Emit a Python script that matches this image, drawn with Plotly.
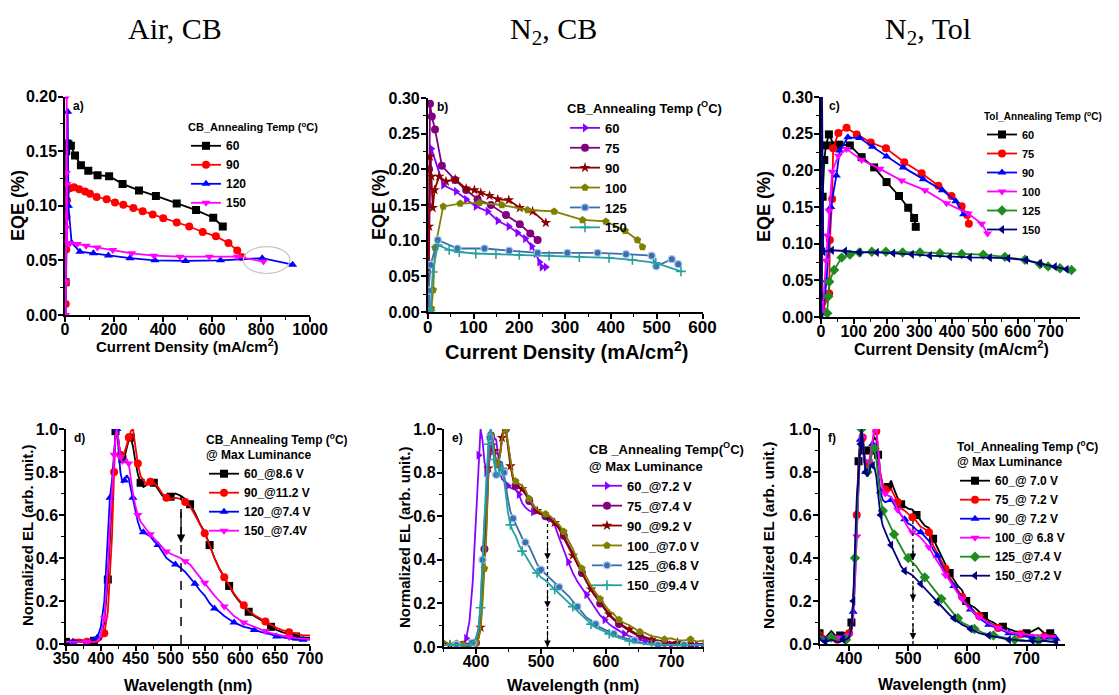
import plotly.graph_objects as go

# page body adds an 8 px margin, so the figure is 8 px smaller and all
# reference pixel positions are shifted by OFF
OFF = 8
W, H = 1119 - OFF, 695 - OFF
SANS = "Liberation Sans"

# ---------------- (a) Air, CB : EQE vs current density ----------------
a60_x = [2, 5, 10, 14, 24, 41, 65, 95, 133, 180, 235, 302, 371, 456, 535, 605, 644]
a60_y = [0.03, 0.15, 0.157, 0.156, 0.155, 0.146, 0.137, 0.132, 0.128, 0.127, 0.120, 0.114, 0.109, 0.102, 0.096, 0.089, 0.081]
a90_x = [3, 4, 5, 6, 8, 20, 37, 58, 82, 102, 129, 170, 204, 238, 279, 317, 358, 401, 456, 507, 562, 616, 667, 703, 721]
a90_y = [0.01, 0.03, 0.06, 0.09, 0.105, 0.116, 0.117, 0.115, 0.113, 0.111, 0.108, 0.106, 0.103, 0.101, 0.098, 0.095, 0.092, 0.0885, 0.0846, 0.081, 0.076, 0.072, 0.066, 0.059, 0.053]
a120_x = [3, 8, 11, 14, 27, 61, 116, 177, 265, 367, 492, 635, 805, 929]
a120_y = [0.0, 0.10, 0.186, 0.10, 0.066, 0.058, 0.0565, 0.0544, 0.052, 0.050, 0.0495, 0.050, 0.052, 0.046]
a150_x = [3, 4, 5, 6, 7, 8, 9, 20, 50, 86, 132, 195, 272, 363, 469, 589, 703, 810]
a150_y = [0.0, 0.03, 0.08, 0.13, 0.20, 0.12, 0.066, 0.0656, 0.065, 0.0635, 0.0617, 0.0595, 0.0565, 0.0543, 0.0534, 0.0534, 0.0534, 0.0489]

# ---------------- (b) N2, CB : EQE vs current density ----------------
b60_x = [2, 4, 8, 34, 62, 84, 105, 131, 153, 177, 196, 213, 227, 236, 244, 249, 258]
b60_y = [0.0, 0.15, 0.229, 0.178, 0.169, 0.158, 0.148, 0.141, 0.128, 0.120, 0.111, 0.103, 0.092, 0.082, 0.070, 0.063, 0.063]
b75_x = [1, 3, 5, 9, 16, 31, 60, 84, 109, 138, 171, 201, 224, 240]
b75_y = [0.0, 0.20, 0.292, 0.274, 0.256, 0.205, 0.185, 0.171, 0.158, 0.150, 0.136, 0.123, 0.110, 0.101]
b90_x = [1, 3, 5, 8, 11, 15, 25, 40, 60, 84, 102, 116, 135, 153, 177, 201, 229, 258]
b90_y = [0.0, 0.12, 0.218, 0.19, 0.146, 0.171, 0.19, 0.183, 0.186, 0.173, 0.171, 0.167, 0.163, 0.158, 0.157, 0.146, 0.141, 0.125]
b100_x = [8, 12, 16, 34, 71, 113, 162, 218, 276, 338, 389, 431, 458, 469]
b100_y = [0.005, 0.031, 0.09, 0.148, 0.152, 0.153, 0.150, 0.143, 0.141, 0.129, 0.127, 0.114, 0.101, 0.091]
b125_x = [1, 2, 6, 22, 65, 124, 178, 240, 305, 371, 433, 489, 499, 533, 547]
b125_y = [0.0, 0.030, 0.066, 0.101, 0.089, 0.089, 0.086, 0.083, 0.083, 0.083, 0.081, 0.079, 0.064, 0.074, 0.067]
b150_x = [3, 6, 11, 22, 47, 69, 105, 149, 200, 265, 331, 396, 447, 498, 553]
b150_y = [0.0, 0.002, 0.056, 0.094, 0.087, 0.084, 0.082, 0.081, 0.080, 0.079, 0.077, 0.076, 0.073, 0.069, 0.057]

# ---------------- (c) N2, Tol : EQE vs current density ----------------
c60_x = [2, 5, 10, 15, 24, 40, 56, 88, 124, 162, 200, 238, 266, 284, 289]
c60_y = [0.027, 0.164, 0.214, 0.234, 0.249, 0.234, 0.235, 0.234, 0.218, 0.204, 0.184, 0.165, 0.149, 0.135, 0.123]
c75_x = [5, 25, 27, 34, 37, 53, 78, 109, 152, 198, 254, 307, 358, 398, 429, 446, 451]
c75_y = [0.009, 0.032, 0.105, 0.161, 0.23, 0.251, 0.258, 0.249, 0.238, 0.230, 0.211, 0.196, 0.179, 0.165, 0.151, 0.139, 0.127]
c90_x = [5, 17, 30, 47, 57, 82, 118, 157, 200, 251, 312, 370, 411, 435]
c90_y = [0.005, 0.05, 0.15, 0.193, 0.227, 0.245, 0.244, 0.232, 0.219, 0.204, 0.188, 0.173, 0.158, 0.14]
c100_x = [5, 15, 19, 24, 34, 53, 78, 124, 180, 246, 317, 383, 449, 490, 508]
c100_y = [0.009, 0.077, 0.111, 0.145, 0.198, 0.22, 0.229, 0.214, 0.202, 0.186, 0.173, 0.155, 0.141, 0.127, 0.114]
c125_x = [19, 22, 25, 40, 63, 88, 117, 155, 198, 249, 302, 363, 429, 495, 561, 622, 668, 693, 729, 764]
c125_y = [0.005, 0.028, 0.048, 0.064, 0.081, 0.085, 0.088, 0.089, 0.089, 0.088, 0.088, 0.087, 0.086, 0.085, 0.082, 0.078, 0.072, 0.069, 0.0665, 0.064]
c150_x = [1, 3, 7, 33, 73, 117, 170, 220, 277, 332, 393, 454, 515, 571, 625, 668, 713, 749]
c150_y = [0.0, 0.31, 0.089, 0.091, 0.090, 0.088, 0.088, 0.087, 0.0855, 0.0836, 0.082, 0.0814, 0.0809, 0.080, 0.0777, 0.073, 0.0686, 0.065]

# ---------------- (d) Air, CB : EL spectra ----------------
wl_d = [350, 360, 370, 380, 390, 395, 400, 405, 410, 413, 416, 419, 421, 423, 425, 428, 431, 434, 437, 440,
        443, 446, 449, 453, 457, 461, 466, 471, 476, 482, 488, 494, 500, 507, 514, 521, 528, 535, 542, 549,
        556, 563, 570, 577, 584, 591, 598, 605, 612, 620, 628, 636, 644, 652, 660, 670, 680, 690, 700]
d60 = [0.01, 0.015, 0.02, 0.01, 0.015, 0.02, 0.04, 0.10, 0.30, 0.50, 0.72, 0.92, 0.99, 1.0, 0.95, 0.88, 0.86, 0.87, 0.91, 0.95,
       0.96, 0.92, 0.86, 0.79, 0.75, 0.73, 0.74, 0.755, 0.75, 0.72, 0.69, 0.68, 0.685, 0.70, 0.69, 0.675, 0.65, 0.61, 0.56, 0.52,
       0.46, 0.40, 0.35, 0.31, 0.27, 0.23, 0.20, 0.175, 0.15, 0.13, 0.115, 0.10, 0.08, 0.065, 0.055, 0.045, 0.035, 0.03, 0.03]
d90 = [0.01, 0.02, 0.02, 0.01, 0.01, 0.01, 0.02, 0.05, 0.15, 0.30, 0.50, 0.80, 0.95, 1.0, 0.96, 0.88, 0.86, 0.89, 0.92, 0.96,
       0.99, 1.0, 0.93, 0.84, 0.78, 0.76, 0.74, 0.755, 0.75, 0.73, 0.70, 0.68, 0.675, 0.68, 0.675, 0.66, 0.64, 0.60, 0.56, 0.515,
       0.46, 0.40, 0.35, 0.31, 0.27, 0.235, 0.205, 0.18, 0.155, 0.135, 0.12, 0.105, 0.09, 0.075, 0.065, 0.055, 0.048, 0.04, 0.04]
d120 = [0.015, 0.01, 0.01, 0.01, 0.03, 0.03, 0.08, 0.2, 0.5, 0.68, 0.76, 0.88, 0.97, 1.0, 0.93, 0.80, 0.75, 0.76, 0.785, 0.77,
        0.72, 0.68, 0.63, 0.57, 0.53, 0.52, 0.51, 0.50, 0.48, 0.46, 0.43, 0.40, 0.385, 0.37, 0.355, 0.335, 0.31, 0.28, 0.25, 0.225,
        0.19, 0.165, 0.15, 0.13, 0.115, 0.10, 0.09, 0.08, 0.075, 0.065, 0.058, 0.05, 0.045, 0.035, 0.03, 0.025, 0.02, 0.02, 0.02]
d150 = [0.01, 0.01, 0.01, 0.01, 0.01, 0.015, 0.04, 0.12, 0.35, 0.55, 0.72, 0.88, 0.97, 1.0, 0.95, 0.87, 0.84, 0.85, 0.86, 0.84,
        0.76, 0.70, 0.65, 0.60, 0.57, 0.55, 0.53, 0.51, 0.49, 0.47, 0.45, 0.43, 0.42, 0.41, 0.40, 0.385, 0.37, 0.34, 0.31, 0.285,
        0.255, 0.225, 0.20, 0.175, 0.15, 0.13, 0.115, 0.10, 0.09, 0.08, 0.068, 0.06, 0.05, 0.045, 0.038, 0.032, 0.027, 0.025, 0.023]

# ---------------- (e) N2, CB : EL spectra ----------------
wl_ef = [350, 360, 370, 380, 385, 390, 395, 400, 404, 407, 410, 413, 416, 419, 421, 423, 425, 428, 431, 434,
         437, 440, 443, 446, 449, 453, 457, 461, 466, 471, 476, 482, 488, 494, 500, 507, 514, 521, 528, 535,
         542, 549, 556, 563, 570, 577, 584, 591, 598, 605, 612, 620, 628, 636, 644, 652, 660, 670, 680, 690,
         700, 710, 720, 730, 740, 750]
e60 = [0.02, 0.01, 0.01, 0.01, 0.04, 0.12, 0.30, 0.60, 0.88, 1.0, 0.95, 0.85, 0.80, 0.82, 0.86, 0.90, 0.93, 0.96, 0.95, 0.88,
       0.80, 0.77, 0.76, 0.75, 0.74, 0.73, 0.725, 0.72, 0.70, 0.66, 0.64, 0.625, 0.62, 0.615, 0.61, 0.605, 0.59, 0.56, 0.50, 0.44,
       0.39, 0.34, 0.30, 0.27, 0.24, 0.21, 0.175, 0.145, 0.125, 0.105, 0.09, 0.075, 0.06, 0.05, 0.04, 0.033, 0.028, 0.02, 0.015, 0.01,
       0.01, 0.01, 0.01, 0.01, 0.01, 0.01]
e75 = [0.01, 0.01, 0.01, 0.01, 0.01, 0.01, 0.01, 0.02, 0.05, 0.10, 0.25, 0.45, 0.66, 0.85, 0.94, 0.97, 0.96, 0.90, 0.85, 0.84,
       0.88, 0.95, 0.99, 1.0, 0.93, 0.84, 0.77, 0.74, 0.73, 0.72, 0.70, 0.67, 0.64, 0.62, 0.61, 0.60, 0.59, 0.575, 0.55, 0.51,
       0.47, 0.43, 0.38, 0.34, 0.30, 0.26, 0.23, 0.20, 0.17, 0.145, 0.125, 0.105, 0.09, 0.075, 0.06, 0.05, 0.04, 0.03, 0.025, 0.02,
       0.02, 0.015, 0.015, 0.01, 0.01, 0.01]
e90 = [0.01, 0.01, 0.01, 0.01, 0.01, 0.01, 0.01, 0.02, 0.04, 0.09, 0.22, 0.40, 0.56, 0.82, 0.93, 0.97, 0.96, 0.90, 0.85, 0.85,
       0.89, 0.96, 1.0, 0.99, 0.92, 0.83, 0.77, 0.745, 0.735, 0.725, 0.71, 0.68, 0.65, 0.625, 0.61, 0.60, 0.59, 0.57, 0.54, 0.50,
       0.46, 0.42, 0.375, 0.335, 0.30, 0.265, 0.235, 0.205, 0.175, 0.15, 0.13, 0.11, 0.095, 0.08, 0.065, 0.055, 0.045, 0.035, 0.03, 0.025,
       0.02, 0.02, 0.015, 0.015, 0.01, 0.01]
e100 = [0.03, 0.01, 0.03, 0.01, 0.01, 0.01, 0.02, 0.02, 0.04, 0.08, 0.20, 0.36, 0.52, 0.80, 0.92, 0.97, 0.96, 0.90, 0.84, 0.84,
        0.88, 0.95, 0.99, 1.0, 0.94, 0.85, 0.78, 0.76, 0.75, 0.74, 0.72, 0.68, 0.65, 0.63, 0.62, 0.61, 0.60, 0.58, 0.56, 0.53,
        0.49, 0.45, 0.40, 0.36, 0.32, 0.28, 0.25, 0.22, 0.19, 0.165, 0.15, 0.125, 0.11, 0.10, 0.085, 0.07, 0.065, 0.05, 0.045, 0.035,
        0.04, 0.03, 0.03, 0.035, 0.025, 0.03]
e125 = [0.01, 0.01, 0.01, 0.01, 0.01, 0.01, 0.02, 0.04, 0.09, 0.20, 0.40, 0.58, 0.68, 0.88, 0.96, 0.98, 0.94, 0.85, 0.79, 0.79,
        0.84, 0.85, 0.80, 0.74, 0.68, 0.62, 0.59, 0.565, 0.53, 0.50, 0.48, 0.46, 0.42, 0.38, 0.355, 0.335, 0.315, 0.295, 0.275, 0.255,
        0.235, 0.21, 0.185, 0.16, 0.135, 0.12, 0.105, 0.09, 0.08, 0.07, 0.06, 0.05, 0.042, 0.035, 0.03, 0.022, 0.015, 0.012, 0.01, 0.01,
        0.01, 0.01, 0.01, 0.01, 0.01, 0.01]
e150 = [0.01, 0.01, 0.01, 0.01, 0.01, 0.01, 0.02, 0.04, 0.08, 0.18, 0.38, 0.60, 0.78, 0.93, 0.99, 1.0, 0.95, 0.86, 0.79, 0.78,
        0.81, 0.82, 0.77, 0.70, 0.62, 0.56, 0.53, 0.51, 0.47, 0.44, 0.42, 0.39, 0.36, 0.34, 0.32, 0.305, 0.285, 0.265, 0.245, 0.225,
        0.205, 0.185, 0.165, 0.145, 0.125, 0.105, 0.09, 0.08, 0.07, 0.06, 0.05, 0.042, 0.035, 0.028, 0.022, 0.018, 0.015, 0.012, 0.01, 0.01,
        0.01, 0.01, 0.01, 0.01, 0.01, 0.01]

# ---------------- (f) N2, Tol : EL spectra ----------------
f60 = [0.05, 0.03, 0.06, 0.03, 0.04, 0.05, 0.05, 0.06, 0.10, 0.20, 0.40, 0.65, 0.85, 0.97, 1.0, 0.97, 0.90, 0.82, 0.79, 0.84,
       0.90, 0.94, 0.96, 0.95, 0.88, 0.79, 0.74, 0.72, 0.73, 0.76, 0.72, 0.68, 0.65, 0.64, 0.63, 0.625, 0.60, 0.57, 0.55, 0.54,
       0.49, 0.45, 0.41, 0.37, 0.33, 0.30, 0.27, 0.25, 0.20, 0.18, 0.17, 0.15, 0.13, 0.11, 0.10, 0.085, 0.08, 0.07, 0.06, 0.055,
       0.05, 0.06, 0.075, 0.05, 0.05, 0.04]
f75 = [0.06, 0.03, 0.04, 0.02, 0.03, 0.03, 0.04, 0.05, 0.08, 0.17, 0.35, 0.60, 0.80, 0.95, 1.0, 0.96, 0.88, 0.81, 0.79, 0.84,
       0.90, 0.96, 1.0, 0.99, 0.90, 0.79, 0.73, 0.72, 0.71, 0.72, 0.69, 0.66, 0.63, 0.62, 0.605, 0.59, 0.57, 0.545, 0.535, 0.52,
       0.46, 0.42, 0.385, 0.35, 0.31, 0.28, 0.25, 0.22, 0.19, 0.17, 0.15, 0.13, 0.115, 0.10, 0.09, 0.075, 0.065, 0.055, 0.05, 0.045,
       0.045, 0.04, 0.04, 0.035, 0.04, 0.035]
f90 = [0.03, 0.02, 0.03, 0.02, 0.02, 0.03, 0.03, 0.04, 0.07, 0.15, 0.30, 0.55, 0.78, 0.95, 1.0, 0.95, 0.86, 0.80, 0.78, 0.82,
       0.88, 0.93, 0.93, 0.88, 0.80, 0.71, 0.67, 0.66, 0.665, 0.67, 0.65, 0.62, 0.60, 0.58, 0.56, 0.55, 0.53, 0.52, 0.50, 0.48,
       0.44, 0.41, 0.37, 0.33, 0.30, 0.27, 0.24, 0.21, 0.185, 0.16, 0.14, 0.12, 0.105, 0.09, 0.08, 0.07, 0.06, 0.05, 0.045, 0.04,
       0.035, 0.03, 0.03, 0.025, 0.03, 0.025]
f100 = [0.04, 0.02, 0.02, 0.03, 0.02, 0.03, 0.03, 0.04, 0.06, 0.12, 0.28, 0.50, 0.75, 0.95, 1.0, 0.96, 0.88, 0.81, 0.80, 0.85,
        0.90, 0.96, 1.0, 1.0, 0.92, 0.78, 0.72, 0.70, 0.69, 0.685, 0.66, 0.625, 0.60, 0.57, 0.54, 0.52, 0.51, 0.495, 0.47, 0.45,
        0.415, 0.385, 0.35, 0.32, 0.29, 0.26, 0.235, 0.21, 0.18, 0.16, 0.145, 0.125, 0.11, 0.095, 0.085, 0.075, 0.065, 0.055, 0.05, 0.045,
        0.045, 0.04, 0.04, 0.035, 0.035, 0.035]
f125 = [0.04, 0.02, 0.03, 0.02, 0.02, 0.02, 0.02, 0.03, 0.07, 0.18, 0.40, 0.62, 0.76, 0.93, 1.0, 0.96, 0.88, 0.82, 0.80, 0.83,
        0.87, 0.90, 0.91, 0.86, 0.78, 0.68, 0.62, 0.60, 0.57, 0.54, 0.51, 0.48, 0.45, 0.42, 0.40, 0.38, 0.36, 0.33, 0.31, 0.285,
        0.26, 0.235, 0.21, 0.185, 0.16, 0.14, 0.12, 0.10, 0.09, 0.08, 0.07, 0.06, 0.05, 0.045, 0.04, 0.035, 0.03, 0.025, 0.02, 0.02,
        0.015, 0.02, 0.015, 0.015, 0.02, 0.015]
f150 = [0.02, 0.01, 0.02, 0.01, 0.01, 0.02, 0.02, 0.03, 0.07, 0.20, 0.45, 0.68, 0.78, 0.93, 1.0, 0.95, 0.87, 0.80, 0.78, 0.80,
        0.83, 0.83, 0.82, 0.78, 0.70, 0.60, 0.55, 0.52, 0.49, 0.46, 0.43, 0.39, 0.36, 0.34, 0.33, 0.32, 0.30, 0.28, 0.26, 0.24,
        0.215, 0.195, 0.175, 0.155, 0.135, 0.12, 0.105, 0.09, 0.08, 0.07, 0.06, 0.05, 0.045, 0.04, 0.035, 0.03, 0.025, 0.02, 0.02, 0.015,
        0.015, 0.015, 0.01, 0.015, 0.01, 0.01]

# colours (Origin-like palette)
BLACK, RED, BLUE, MAGENTA = "#000000", "#ff0000", "#0000ff", "#ff00ff"
VIOLET, PURPLE, WINE, OLIVE = "#8800ff", "#800080", "#8b0000", "#808000"
STEEL, TEAL, GREEN, NAVY = "#3b6db0", "#27a0a0", "#1e8c1e", "#00007f"


def px(x):
    return (x - OFF) / W


def py(y):
    return 1 - (y - OFF) / H


def dom_x(left, right):
    return [px(left), px(right)]


def dom_y(top, bottom):
    return [py(bottom), py(top)]


fig = go.Figure()


def add(x, y, name, color, symbol, ax, legend, size=8, maxd=0):
    n = "" if ax == 1 else str(ax)
    mk = dict(symbol=symbol, size=size, color=color, line=dict(width=0))
    if symbol == "cross-thin":
        mk["line"] = dict(width=1.6, color=color)
    if symbol == "circle" and color == STEEL:
        mk["line"] = dict(width=1.2, color="#a9c7ea")
    if maxd:
        mk["maxdisplayed"] = maxd
    fig.add_trace(go.Scatter(x=x, y=y, name=name, mode="lines+markers",
                             line=dict(color=color, width=1.8), marker=mk,
                             xaxis="x" + n, yaxis="y" + n, legend=legend))


# (a)
add(a60_x, a60_y, "60", BLACK, "square", 1, "legend")
add(a90_x, a90_y, "90", RED, "circle", 1, "legend")
add(a120_x, a120_y, "120", BLUE, "triangle-up", 1, "legend")
add(a150_x, a150_y, "150", MAGENTA, "triangle-down", 1, "legend")
# (b)
add(b60_x, b60_y, "60", VIOLET, "triangle-right", 2, "legend2")
add(b75_x, b75_y, "75", PURPLE, "circle", 2, "legend2")
add(b90_x, b90_y, "90", WINE, "star", 2, "legend2")
add(b100_x, b100_y, "100", OLIVE, "pentagon", 2, "legend2")
add(b125_x, b125_y, "125", STEEL, "circle", 2, "legend2", size=7)
add(b150_x, b150_y, "150", TEAL, "cross-thin", 2, "legend2", size=7)
# (c)
add(c60_x, c60_y, "60", BLACK, "square", 3, "legend3")
add(c75_x, c75_y, "75", RED, "circle", 3, "legend3")
add(c90_x, c90_y, "90", BLUE, "triangle-up", 3, "legend3")
add(c100_x, c100_y, "100", MAGENTA, "triangle-down", 3, "legend3")
add(c125_x, c125_y, "125", GREEN, "diamond", 3, "legend3")
add(c150_x, c150_y, "150", NAVY, "triangle-left", 3, "legend3")
# (d)
add(wl_d, d60, "60_@8.6 V", BLACK, "square", 4, "legend4", maxd=16)
add(wl_d, d90, "90_@11.2 V", RED, "circle", 4, "legend4", maxd=16)
add(wl_d, d120, "120_@7.4 V", BLUE, "triangle-up", 4, "legend4", maxd=16)
add(wl_d, d150, "150_@7.4V", MAGENTA, "triangle-down", 4, "legend4", maxd=16)
# (e)
add(wl_ef, e60, "60_@7.2 V", VIOLET, "triangle-right", 5, "legend5", maxd=17)
add(wl_ef, e75, "75_@7.4 V", PURPLE, "circle", 5, "legend5", maxd=17)
add(wl_ef, e90, "90_@9.2 V", WINE, "star", 5, "legend5", maxd=17)
add(wl_ef, e100, "100_@7.0 V", OLIVE, "pentagon", 5, "legend5", maxd=17)
add(wl_ef, e125, "125_@6.8 V", STEEL, "circle", 5, "legend5", size=7, maxd=17)
add(wl_ef, e150, "150_@9.4 V", TEAL, "cross-thin", 5, "legend5", size=7, maxd=17)
# (f)
add(wl_ef, f60, "60_@ 7.0 V", BLACK, "square", 6, "legend6", maxd=17)
add(wl_ef, f75, "75_@ 7.2 V", RED, "circle", 6, "legend6", maxd=17)
add(wl_ef, f90, "90_@ 7.2 V", BLUE, "triangle-up", 6, "legend6", maxd=17)
add(wl_ef, f100, "100_@ 6.8 V", MAGENTA, "triangle-down", 6, "legend6", maxd=17)
add(wl_ef, f125, "125_@7.4 V", GREEN, "diamond", 6, "legend6", maxd=17)
add(wl_ef, f150, "150_@7.2 V", NAVY, "triangle-left", 6, "legend6", maxd=17)


def axis(dom, rng, dtick, fmt, minor, anchor, fs=16, standoff=0):
    return dict(domain=dom, range=rng, dtick=dtick, tick0=0, tickformat=fmt,
                showline=True, linecolor="black", linewidth=1.5, mirror=False,
                ticks="outside", ticklen=5, tickwidth=1.5, tickcolor="black",
                minor=dict(ticks="outside", ticklen=3, tickwidth=1, tickcolor="black", dtick=minor),
                showgrid=False, zeroline=False, automargin=False, ticklabelstandoff=standoff,
                tickfont=dict(family=SANS, size=fs, color="black", weight="bold"), anchor=anchor)


XS, YS = -6, -2
layout = dict(
    width=W, height=H, margin=dict(l=0, r=0, t=0, b=0, autoexpand=False),
    paper_bgcolor="white", plot_bgcolor="white", showlegend=True,
    xaxis=axis(dom_x(65, 310), [0, 1000], 200, "d", 100, "y", standoff=XS),
    yaxis=axis(dom_y(96.5, 315), [0, 0.2], 0.05, ".2f", 0.025, "x", standoff=YS),
    xaxis2=axis(dom_x(427.7, 702.5), [0, 600], 100, "d", 50, "y2", fs=17, standoff=XS),
    yaxis2=axis(dom_y(98, 312), [0, 0.30], 0.05, ".2f", 0.025, "x2", standoff=YS),
    xaxis3=axis(dom_x(821, 1080), [0, 790], 100, "d", 50, "y3", standoff=XS),
    yaxis3=axis(dom_y(97, 317), [0, 0.30], 0.05, ".2f", 0.025, "x3", standoff=YS),
    xaxis4=axis(dom_x(66, 310), [350, 700], 50, "d", 25, "y4", standoff=XS),
    yaxis4=axis(dom_y(429, 644), [0, 1.0], 0.2, ".1f", 0.1, "x4", standoff=YS),
    xaxis5=axis(dom_x(443.5, 703.5), [350, 750], 100, "d", 50, "y5", standoff=XS),
    yaxis5=axis(dom_y(429, 647), [0, 1.0], 0.2, ".1f", 0.1, "x5", standoff=YS),
    xaxis6=axis(dom_x(819.5, 1065), [350, 765], 100, "d", 50, "y6", standoff=XS),
    yaxis6=axis(dom_y(429, 644), [0, 1.0], 0.2, ".1f", 0.1, "x6", standoff=YS),
)


def leg(x, y, title, size=12, tsize=None):
    f = dict(family=SANS, size=size, color="black", weight="bold")
    return dict(x=px(x), y=py(y), xanchor="left", yanchor="top",
                bgcolor="rgba(0,0,0,0)", borderwidth=0, tracegroupgap=0, font=f,
                title=dict(text=title, font=dict(f, size=tsize or size)))


layout["legend"] = leg(186, 117, "CB_Annealing Temp (<sup>o</sup>C)", 12, 11)
layout["legend2"] = leg(565, 96, "CB_Annealing Temp (<sup>O</sup>C)", 13)
layout["legend3"] = leg(982, 107, "Tol_Annealing Temp (<sup>o</sup>C)", 11, 10)
layout["legend4"] = leg(204, 428, "CB_Annealing Temp (<sup>o</sup>C)<br>@ Max Luminance", 12)
layout["legend5"] = leg(587, 437, "CB _Annealing Temp(<sup>O</sup>C)<br>@ Max Luminance", 13)
layout["legend6"] = leg(955, 435, "Tol_Annealing Temp (<sup>o</sup>C)<br>@ Max Luminance", 12)

fig.update_layout(**layout)


def label(text, x, y, size, angle=0, family=SANS, weight="bold"):
    fig.add_annotation(text=text, x=px(x), y=py(y), xref="paper", yref="paper",
                       xanchor="center", yanchor="middle", showarrow=False, textangle=angle,
                       font=dict(family=family, size=size, color="black", weight=weight))


# panel titles
label("Air, CB", 175, 29, 30, family="Liberation Serif", weight="normal")
label("N<sub>2</sub>, CB", 553, 31, 30, family="Liberation Serif", weight="normal")
label("N<sub>2</sub>, Tol", 928, 31, 30, family="Liberation Serif", weight="normal")

# axis titles
JTITLE = "Current Density (mA/cm<sup>2</sup>)"
label("EQE (%)", 18, 206, 18, -90)
label("EQE (%)", 379, 205, 18, -90)
label("EQE (%)", 764, 207, 18, -90)
label(JTITLE, 187, 345, 15)
label(JTITLE, 566, 350, 20)
label(JTITLE, 951, 348, 16)
label("Normalized EL (arb. unit.)", 27, 536, 15, -90)
label("Normalized EL (arb. unit.)", 404, 538, 15, -90)
label("Normalized EL (arb. unit.)", 768, 536, 15.5, -90)
label("Wavelength (nm)", 188, 685, 16)
label("Wavelength (nm)", 573, 685, 16.5)
label("Wavelength (nm)", 942, 684, 16)

# panel letters
for i, lab in enumerate(["a)", "b)", "c)", "d)", "e)", "f)"], start=1):
    n = "" if i == 1 else str(i)
    fig.add_annotation(text=lab, x=0.025, y=1.0, xref="x" + n + " domain", yref="y" + n + " domain",
                       xanchor="left", yanchor="top", showarrow=False,
                       font=dict(family=SANS, size=12, color="black", weight="bold"))

# grey ellipse highlighting the overlap in (a)
fig.add_shape(type="circle", xref="x", yref="y", x0=728, x1=918, y0=0.038, y1=0.0626,
              line=dict(color="#c4c4c4", width=1.2))

# arrows marking the 510 nm shoulder
ARROW_D, ARROW_E, ARROW_F = 515, 510, 508
fig.add_shape(type="line", xref="x4", yref="y4", x0=ARROW_D, x1=ARROW_D, y0=0.0, y1=0.69,
              line=dict(color="black", width=1.5, dash="dash"))
fig.add_annotation(x=ARROW_D, y=0.47, ax=ARROW_D, ay=0.62, xref="x4", yref="y4", axref="x4", ayref="y4",
                   text="", showarrow=True, arrowhead=2, arrowsize=1.3, arrowwidth=1.3, arrowcolor="black")
for ax_id, xa, top, heads in [("5", ARROW_E, 0.60, [0.40, 0.18, 0.0]), ("6", ARROW_F, 0.58, [0.39, 0.20, 0.02])]:
    fig.add_shape(type="line", xref="x" + ax_id, yref="y" + ax_id, x0=xa, x1=xa, y0=0.0, y1=top,
                  line=dict(color="black", width=1.3, dash="dot"))
    for hy in heads:
        fig.add_annotation(x=xa, y=hy, ax=xa, ay=hy + 0.08, xref="x" + ax_id, yref="y" + ax_id,
                           axref="x" + ax_id, ayref="y" + ax_id, text="", showarrow=True,
                           arrowhead=2, arrowsize=1.2, arrowwidth=1.1, arrowcolor="black")

fig.write_html("out.html")
